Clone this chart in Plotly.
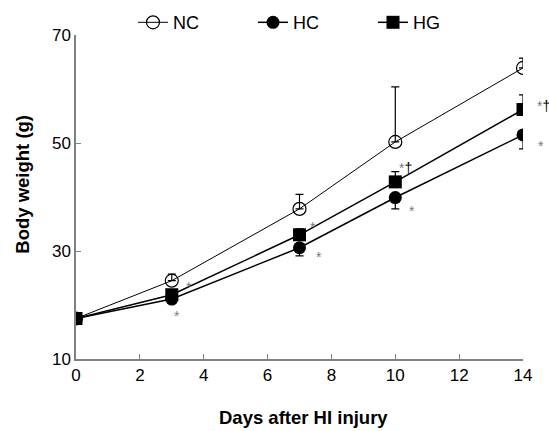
import plotly.graph_objects as go

days = [0, 3, 7, 10, 14]
nc = [17.5, 24.5, 37.8, 50.2, 63.9]
nc_err = [0, 1.2, 2.7, 10.2, 1.8]
hc = [17.5, 21.1, 30.6, 39.9, 51.5]
hc_err = [0, 0.5, 1.5, 2.1, 2.6]
hg = [17.5, 21.9, 33.0, 42.8, 56.2]
hg_err = [0, 0.5, 1.1, 1.9, 2.7]
hc_sig = ["", "*", "*", "*", "*"]
hg_sig = ["", "*", "*", "*†", "*†"]
x_ticks = [0, 2, 4, 6, 8, 10, 12, 14]
y_ticks = [10, 30, 50, 70]

FONT = "Liberation Sans, Arial, sans-serif"
fig = go.Figure()

fig.add_trace(go.Scatter(
    x=days, y=nc, name="NC", mode="lines+markers",
    line=dict(color="black", width=1),
    marker=dict(symbol="circle-open", size=13, color="black", line=dict(width=1.2, color="black")),
    error_y=dict(type="data", symmetric=False, array=nc_err, arrayminus=[0] * len(nc_err),
                 color="black", thickness=1.2, width=4),
))
fig.add_trace(go.Scatter(
    x=days, y=hc, name="HC", mode="lines+markers",
    line=dict(color="black", width=1.5),
    marker=dict(symbol="circle", size=13, color="black"),
    error_y=dict(type="data", symmetric=False, array=[0] * len(hc_err), arrayminus=hc_err,
                 color="black", thickness=1.2, width=4),
))
fig.add_trace(go.Scatter(
    x=days, y=hg, name="HG", mode="lines+markers",
    line=dict(color="black", width=1.5),
    marker=dict(symbol="square", size=13, color="black"),
    error_y=dict(type="data", symmetric=False, array=hg_err, arrayminus=[0] * len(hg_err),
                 color="black", thickness=1.2, width=4),
))

# significance marks, offsets in px relative to the data point
hc_off = [(0, 0), (5, -17), (19, -9), (17, -13), (18, -11)]
hg_off = [(0, 0), (17, 8), (13, 8), (2, 14), (12, 4)]


def sig_text(s):
    out = ""
    for ch in s:
        if ch == "*":
            out += "<span style='color:#7a7a7a'>*</span>"
        else:
            out += ch
    return out


for xs, ys, sigs, offs in [(days, hc, hc_sig, hc_off), (days, hg, hg_sig, hg_off)]:
    for xv, yv, s, (dx, dy) in zip(xs, ys, sigs, offs):
        if not s:
            continue
        fig.add_annotation(
            x=xv, y=yv, xref="x", yref="y", text=sig_text(s), showarrow=False,
            xanchor="left" if len(s) > 1 else "center", yanchor="middle",
            xshift=dx, yshift=dy, font=dict(family=FONT, size=14, color="black"),
        )

fig.add_annotation(x=0.509, y=-0.182, xref="paper", yref="paper", text="<b>Days after HI injury</b>",
                   showarrow=False, xanchor="center", yanchor="middle",
                   font=dict(family=FONT, size=18.5, color="black"))
fig.add_annotation(x=-0.1215, y=0.54, xref="paper", yref="paper", text="<b>Body weight (g)</b>",
                   showarrow=False, xanchor="center", yanchor="middle", textangle=-90,
                   font=dict(family=FONT, size=18.5, color="black"))

fig.update_layout(
    width=549, height=431,
    margin=dict(l=76, r=26, t=35, b=72, autoexpand=False),
    plot_bgcolor="white", paper_bgcolor="white",
    font=dict(family=FONT, size=17, color="black"),
    showlegend=True,
    hovermode=False,
    legend=dict(orientation="h", x=133 / 549, y=1 - 22.6 / 431, xref="container", yref="container",
                xanchor="left", yanchor="middle", entrywidth=75, entrywidthmode="pixels",
                font=dict(family=FONT, size=18, color="black"), bgcolor="rgba(0,0,0,0)",
                itemwidth=30, tracegroupgap=0),
    xaxis=dict(range=[0, 14], tickvals=x_ticks, ticks="inside", ticklen=5, tickwidth=1,
               tickcolor="#808080", showline=True, linecolor="#808080", linewidth=1.5,
               showgrid=False, zeroline=False, tickfont=dict(size=17)),
    yaxis=dict(range=[10, 70], tickvals=y_ticks, ticks="inside", ticklen=5, tickwidth=1,
               tickcolor="#808080", showline=True, linecolor="#808080", linewidth=1.5,
               showgrid=False, zeroline=False, tickfont=dict(size=17)),
)

fig.write_html("out.html", config={"displayModeBar": False},
               post_script="document.body.style.margin='0';document.body.style.overflow='hidden';")
